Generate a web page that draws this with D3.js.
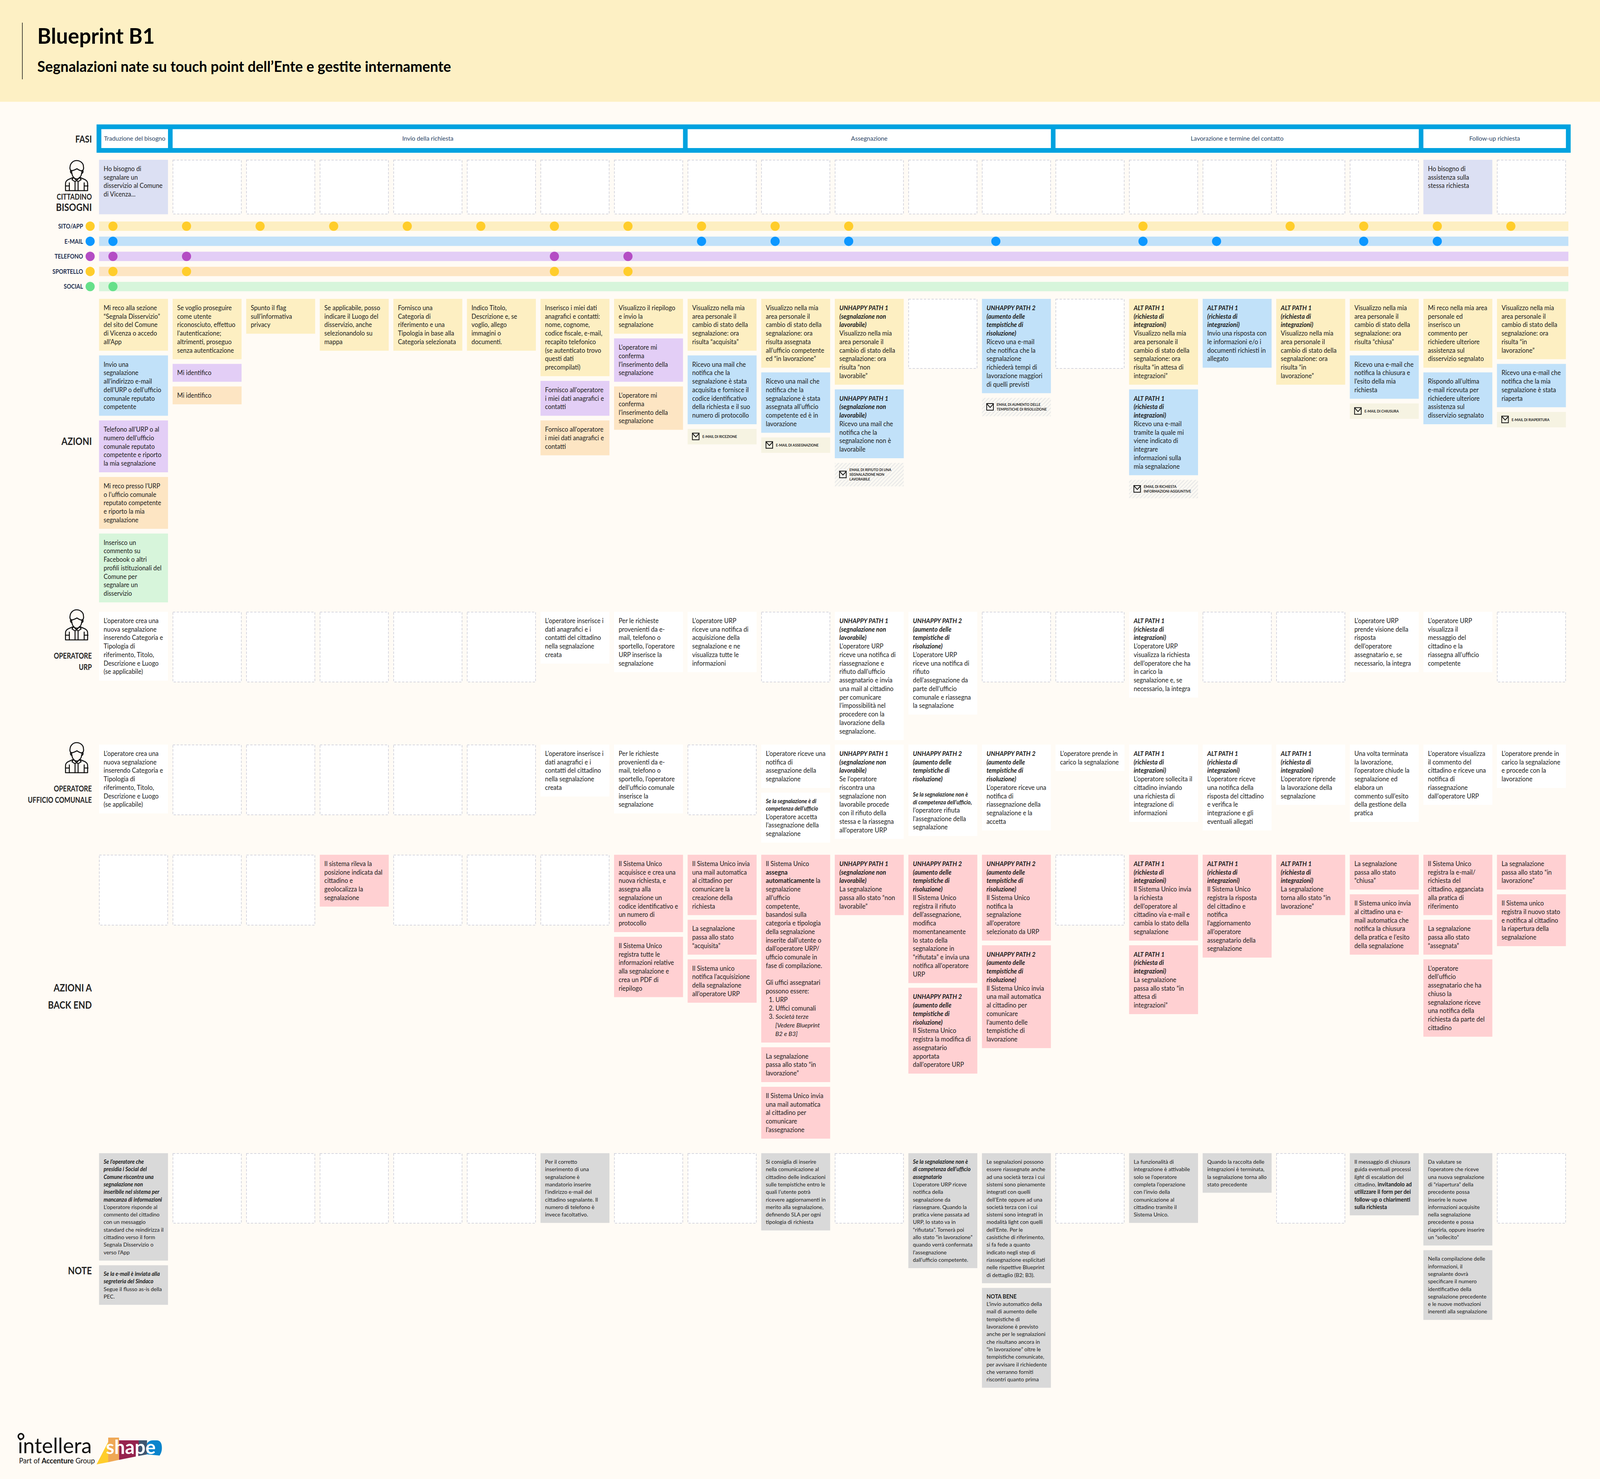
<!DOCTYPE html>
<html>
<head>
<meta charset="utf-8">
<title>Blueprint B1</title>
<script src="https://cdn.jsdelivr.net/npm/d3@7"></script>
<style>
  html, body { margin: 0; padding: 0; background: #FFFBF5; overflow: hidden; }
  svg { display: block; }
  text { font-family: Lato, "Noto Sans", sans-serif; }
</style>
</head>
<body>
<div id="chart"></div>
<script>
/* ========== DATA ========== */
var phases = [
  ['Traduzione del bisogno', 0, 0],
  ['Invio della richiesta', 1, 7],
  ['Assegnazione', 8, 12],
  ['Lavorazione e termine del contatto', 13, 17],
  ['Follow-up richiesta', 18, 19]
];
var channels = ['SITO/APP', 'E-MAIL', 'TELEFONO', 'SPORTELLO', 'SOCIAL'];
var sitoCols = [0, 1, 2, 3, 4, 5, 6, 7, 8, 9, 10, 14, 16, 17, 18, 19];
var emailCols = [0, 8, 9, 10, 12, 14, 15, 17, 18];
var telefonoCols = [0, 1, 6, 7];
var sportelloCols = [0, 1, 6, 7];
var socialCols = [0];

var U1 = '#UNHAPPY PATH 1#|#(segnalazione non#|#lavorabile)#|';
var U2 = '#UNHAPPY PATH 2#|#(aumento delle#|#tempistiche di#|#risoluzione)#|';
var ALT = '#ALT PATH 1#|#(richiesta di#|#integrazioni)#|';

var bisogniCards = [
  [0, 'need', 'Ho bisogno di|segnalare un|disservizio al Comune|di Vicenza...'],
  [18, 'need', 'Ho bisogno di|assistenza sulla|stessa richiesta']
];

var azioniCards = [
  [0, 'sito', 'Mi reco alla sezione|“Segnala Disservizio”|del sito del Comune|di Vicenza o accedo|all’App'],
  [0, 'mail', 'Invio una|segnalazione|all’indirizzo e-mail|dell’URP o dell’ufficio|comunale reputato|competente'],
  [0, 'tel', 'Telefono all’URP o al|numero dell’ufficio|comunale reputato|competente e riporto|la mia segnalazione'],
  [0, 'sport', 'Mi reco presso l’URP|o l’ufficio comunale|reputato competente|e riporto la mia|segnalazione'],
  [0, 'social', 'Inserisco un|commento su|Facebook o altri|profili istituzionali del|Comune per|segnalare un|disservizio'],
  [1, 'sito', 'Se voglio proseguire|come utente|riconosciuto, effettuo|l’autenticazione;|altrimenti, proseguo|senza autenticazione'],
  [1, 'tel', 'Mi identifico'],
  [1, 'sport', 'Mi identifico'],
  [2, 'sito', 'Spunto il flag|sull’informativa|privacy'],
  [3, 'sito', 'Se applicabile, posso|indicare il Luogo del|disservizio, anche|selezionandolo su|mappa'],
  [4, 'sito', 'Fornisco una|Categoria di|riferimento e una|Tipologia in base alla|Categoria selezionata'],
  [5, 'sito', 'Indico Titolo,|Descrizione e, se|voglio, allego|immagini o|documenti.'],
  [6, 'sito', 'Inserisco i miei dati|anagrafici e contatti:|nome, cognome,|codice fiscale, e-mail,|recapito telefonico|(se autenticato trovo|questi dati|precompilati)'],
  [6, 'tel', 'Fornisco all’operatore|i miei dati anagrafici e|contatti'],
  [6, 'sport', 'Fornisco all’operatore|i miei dati anagrafici e|contatti'],
  [7, 'sito', 'Visualizzo il riepilogo|e invio la|segnalazione'],
  [7, 'tel', 'L’operatore mi|conferma|l’inserimento della|segnalazione'],
  [7, 'sport', 'L’operatore mi|conferma|l’inserimento della|segnalazione'],
  [8, 'sito', 'Visualizzo nella mia|area personale il|cambio di stato della|segnalazione: ora|risulta “acquisita”'],
  [8, 'mail', 'Ricevo una mail che|notifica che la|segnalazione è stata|acquisita e fornisce il|codice identificativo|della richiesta e il suo|numero di protocollo'],
  [8, 'tag', 'E-MAIL DI RICEZIONE'],
  [9, 'sito', 'Visualizzo nella mia|area personale il|cambio di stato della|segnalazione: ora|risulta assegnata|all’ufficio competente|ed “in lavorazione”'],
  [9, 'mail', 'Ricevo una mail che|notifica che la|segnalazione è stata|assegnata all’ufficio|competente ed è in|lavorazione'],
  [9, 'tag', 'E-MAIL DI ASSEGNAZIONE'],
  [10, 'sito', U1 + 'Visualizzo nella mia|area personale il|cambio di stato della|segnalazione: ora|risulta “non|lavorabile”'],
  [10, 'mail', U1 + 'Ricevo una mail che|notifica che la|segnalazione non è|lavorabile'],
  [10, 'hatch', 'EMAIL DI RIFIUTO DI UNA|SEGNALAZIONE NON|LAVORABILE'],
  [12, 'mail', U2 + 'Ricevo una e-mail|che notifica che la|segnalazione|richiederà tempi di|lavorazione maggiori|di quelli previsti'],
  [12, 'hatch', 'EMAIL DI AUMENTO DELLE|TEMPISTICHE DI RISOLUZIONE'],
  [14, 'sito', ALT + 'Visualizzo nella mia|area personale il|cambio di stato della|segnalazione: ora|risulta “in attesa di|integrazioni”'],
  [14, 'mail', ALT + 'Ricevo una e-mail|tramite la quale mi|viene indicato di|integrare|informazioni sulla|mia segnalazione'],
  [14, 'hatch', 'EMAIL DI RICHIESTA|INFORMAZIONI AGGIUNTIVE'],
  [15, 'mail', ALT + 'Invio una risposta con|le informazioni e/o i|documenti richiesti in|allegato'],
  [16, 'sito', ALT + 'Visualizzo nella mia|area personale il|cambio di stato della|segnalazione: ora|risulta “in|lavorazione”'],
  [17, 'sito', 'Visualizzo nella mia|area personale il|cambio di stato della|segnalazione: ora|risulta “chiusa”'],
  [17, 'mail', 'Ricevo una e-mail che|notifica la chiusura e|l’esito della mia|richiesta'],
  [17, 'tag', 'E-MAIL DI CHIUSURA'],
  [18, 'sito', 'Mi reco nella mia area|personale ed|inserisco un|commento per|richiedere ulteriore|assistenza sul|disservizio segnalato'],
  [18, 'mail', 'Rispondo all’ultima|e-mail ricevuta per|richiedere ulteriore|assistenza sul|disservizio segnalato'],
  [19, 'sito', 'Visualizzo nella mia|area personale il|cambio di stato della|segnalazione: ora|risulta “in|lavorazione”'],
  [19, 'mail', 'Ricevo una e-mail che|notifica che la mia|segnalazione è stata|riaperta'],
  [19, 'tag', 'E-MAIL DI RIAPERTURA']
];

var urpCards = [
  [0, 'white', 'L’operatore crea una|nuova segnalazione|inserendo Categoria e|Tipologia di|riferimento, Titolo,|Descrizione e Luogo|(se applicabile)'],
  [6, 'white', 'L’operatore inserisce i|dati anagrafici e i|contatti del cittadino|nella segnalazione|creata'],
  [7, 'white', 'Per le richieste|provenienti da e-|mail, telefono o|sportello, l’operatore|URP inserisce la|segnalazione'],
  [8, 'white', 'L’operatore URP|riceve una notifica di|acquisizione della|segnalazione e ne|visualizza tutte le|informazioni'],
  [10, 'white', U1 + 'L’operatore URP|riceve una notifica di|riassegnazione e|rifiuto dall’ufficio|assegnatario e invia|una mail al cittadino|per comunicare|l’impossibilità nel|procedere con la|lavorazione della|segnalazione.'],
  [11, 'white', U2 + 'L’operatore URP|riceve una notifica di|rifiuto|dell’assegnazione da|parte dell’ufficio|comunale e riassegna|la segnalazione'],
  [14, 'white', ALT + 'L’operatore URP|visualizza la richiesta|dell’operatore che ha|in carico la|segnalazione e, se|necessario, la integra'],
  [17, 'white', 'L’operatore URP|prende visione della|risposta|dell’operatore|assegnatario e, se|necessario, la integra'],
  [18, 'white', 'L’operatore URP|visualizza il|messaggio del|cittadino e la|riassegna all’ufficio|competente']
];

var comunaleCards = [
  [0, 'white', 'L’operatore crea una|nuova segnalazione|inserendo Categoria e|Tipologia di|riferimento, Titolo,|Descrizione e Luogo|(se applicabile)'],
  [6, 'white', 'L’operatore inserisce i|dati anagrafici e i|contatti del cittadino|nella segnalazione|creata'],
  [7, 'white', 'Per le richieste|provenienti da e-|mail, telefono o|sportello, l’operatore|dell’ufficio comunale|inserisce la|segnalazione'],
  [9, 'white', 'L’operatore riceve una|notifica di|assegnazione della|segnalazione'],
  [9, 'white', '~#Se la segnalazione è di#|~#competenza dell’ufficio#|L’operatore accetta|l’assegnazione della|segnalazione'],
  [10, 'white', U1 + 'Se l’operatore|riscontra una|segnalazione non|lavorabile procede|con il rifiuto della|stessa e la riassegna|all’operatore URP'],
  [11, 'white', U2 + '~|~#Se la segnalazione non è#|~#di competenza dell’ufficio,#|l’operatore rifiuta|l’assegnazione della|segnalazione'],
  [12, 'white', U2 + 'L’operatore riceve una|notifica di|riassegnazione della|segnalazione e la|accetta'],
  [13, 'white', 'L’operatore prende in|carico la segnalazione'],
  [14, 'white', ALT + 'L’operatore sollecita il|cittadino inviando|una richiesta di|integrazione di|informazioni'],
  [15, 'white', ALT + 'L’operatore riceve|una notifica della|risposta del cittadino|e verifica le|integrazione e gli|eventuali allegati'],
  [16, 'white', ALT + 'L’operatore riprende|la lavorazione della|segnalazione'],
  [17, 'white', 'Una volta terminata|la lavorazione,|l’operatore chiude la|segnalazione ed|elabora un|commento sull’esito|della gestione della|pratica'],
  [18, 'white', 'L’operatore visualizza|il commento del|cittadino e riceve una|notifica di|riassegnazione|dall’operatore URP'],
  [19, 'white', 'L’operatore prende in|carico la segnalazione|e procede con la|lavorazione']
];

var backendCards = [
  [3, 'pink', 'Il sistema rileva la|posizione indicata dal|cittadino e|geolocalizza la|segnalazione'],
  [7, 'pink', 'Il Sistema Unico|acquisisce e crea una|nuova richiesta, e|assegna alla|segnalazione un|codice identificativo e|un numero di|protocollo'],
  [7, 'pink', 'Il Sistema Unico|registra tutte le|informazioni relative|alla segnalazione e|crea un PDF di|riepilogo'],
  [8, 'pink', 'Il Sistema Unico invia|una mail automatica|al cittadino per|comunicare la|creazione della|richiesta'],
  [8, 'pink', 'La segnalazione|passa allo stato|“acquisita”'],
  [8, 'pink', 'Il Sistema unico|notifica l’acquisizione|della segnalazione|all’operatore URP'],
  [9, 'pink', 'Il Sistema Unico|*assegna*|*automaticamente* la|segnalazione|all’ufficio|competente,|basandosi sulla|categoria e tipologia|della segnalazione|inserite dall’utente o|dall’operatore URP/|ufficio comunale in|fase di compilazione.||Gli uffici assegnatari|possono essere:|>1. URP|>2. Uffici comunali|>3. _Società terze_|>>_[Vedere Blueprint_|>>_B2 e B3]_'],
  [9, 'pink', 'La segnalazione|passa allo stato “in|lavorazione”'],
  [9, 'pink', 'Il Sistema Unico invia|una mail automatica|al cittadino per|comunicare|l’assegnazione'],
  [10, 'pink', U1 + 'La segnalazione|passa allo stato “non|lavorabile”'],
  [11, 'pink', U2 + 'Il Sistema Unico|registra il rifiuto|dell’assegnazione,|modifica|momentaneamente|lo stato della|segnalazione in|“rifiutata” e invia una|notifica all’operatore|URP'],
  [11, 'pink', U2 + 'Il Sistema Unico|registra la modifica di|assegnatario|apportata|dall’operatore URP'],
  [12, 'pink', U2 + 'Il Sistema Unico|notifica la|segnalazione|all’operatore|selezionato da URP'],
  [12, 'pink', U2 + 'Il Sistema Unico invia|una mail automatica|al cittadino per|comunicare|l’aumento delle|tempistiche di|lavorazione'],
  [14, 'pink', ALT + 'Il Sistema Unico invia|la richiesta|dell’operatore al|cittadino via e-mail e|cambia lo stato della|segnalazione'],
  [14, 'pink', ALT + 'La segnalazione|passa allo stato “in|attesa di|integrazioni”'],
  [15, 'pink', ALT + 'Il Sistema Unico|registra la risposta|del cittadino e|notifica|l’aggiornamento|all’operatore|assegnatario della|segnalazione'],
  [16, 'pink', ALT + 'La segnalazione|torna allo stato “in|lavorazione”'],
  [17, 'pink', 'La segnalazione|passa allo stato|“chiusa”'],
  [17, 'pink', 'Il Sistema unico invia|al cittadino una e-|mail automatica che|notifica la chiusura|della pratica e l’esito|della segnalazione'],
  [18, 'pink', 'Il Sistema Unico|registra la e-mail/|richiesta del|cittadino, agganciata|alla pratica di|riferimento'],
  [18, 'pink', 'La segnalazione|passa allo stato|“assegnata”'],
  [18, 'pink', 'L’operatore|dell’ufficio|assegnatario che ha|chiuso la|segnalazione riceve|una notifica della|richiesta da parte del|cittadino'],
  [19, 'pink', 'La segnalazione|passa allo stato “in|lavorazione”'],
  [19, 'pink', 'Il Sistema unico|registra il nuovo stato|e notifica al cittadino|la riapertura della|segnalazione']
];

var noteCards = [
  [0, 'note', '#Se l’operatore che#|#presidia i Social del#|#Comune riscontra una#|#segnalazione non#|#inseribile nel sistema per#|#mancanza di informazioni#|L’operatore risponde al|commento del cittadino|con un messaggio|standard che reindirizza il|cittadino verso il form|Segnala Disservizio o|verso l’App'],
  [0, 'note', '#Se la e-mail è inviata alla#|#segreteria del Sindaco#|Segue il flusso as-is della|PEC.'],
  [6, 'note', 'Per il corretto|inserimento di una|segnalazione è|mandatorio inserire|l’indirizzo e-mail del|cittadino segnalante. Il|numero di telefono è|invece facoltativo.'],
  [9, 'note', 'Si consiglia di inserire|nella comunicazione al|cittadino delle indicazioni|sulle tempistiche entro le|quali l’utente potrà|ricevere aggiornamenti in|merito alla segnalazione,|definendo SLA per ogni|tipologia di richiesta'],
  [11, 'note', '#Se la segnalazione non è#|#di competenza dell’ufficio#|#assegnatario#|L’operatore URP riceve|notifica della|segnalazione da|riassegnare. Quando la|pratica viene passata ad|URP, lo stato va in|“rifiutata”. Tornerà poi|allo stato “in lavorazione”|quando verrà confermata|l’assegnazione|dall’ufficio competente.'],
  [12, 'note', 'Le segnalazioni possono|essere riassegnate anche|ad una società terza i cui|sistemi sono pienamente|integrati con quelli|dell’Ente oppure ad una|società terza con i cui|sistemi sono integrati in|modalità light con quelli|dell’Ente. Per le|casistiche di riferimento,|si fa fede a quanto|indicato negli step di|riassegnazione esplicitati|nelle rispettive Blueprint|di dettaglio (B2; B3).'],
  [12, 'note', '*NOTA BENE*|L’invio automatico della|mail di aumento delle|tempistiche di|lavorazione è previsto|anche per le segnalazioni|che risultano ancora in|“in lavorazione” oltre le|tempistiche comunicate,|per avvisare il richiedente|che verranno forniti|riscontri quanto prima'],
  [14, 'note', 'La funzionalità di|integrazione è attivabile|solo se l’operatore|completa l’operazione|con l’invio della|comunicazione al|cittadino tramite il|Sistema Unico.'],
  [15, 'note', 'Quando la raccolta delle|integrazioni è terminata,|la segnalazione torna allo|stato precedente'],
  [17, 'note', 'Il messaggio di chiusura|guida eventuali processi|_light_ di escalation del|cittadino, *invitandolo ad*|*utilizzare il form per dei*|*follow-up o chiarimenti*|*sulla richiesta*'],
  [18, 'note', 'Da valutare se|l’operatore che riceve|una nuova segnalazione|di “riapertura” della|precedente possa|inserire le nuove|informazioni acquisite|nella segnalazione|precedente e possa|riaprirla, oppure inserire|un “sollecito”'],
  [18, 'note', 'Nella compilazione delle|informazioni, il|segnalante dovrà|specificare il numero|identificativo della|segnalazione precedente|e le nuove motivazioni|inerenti alla segnalazione']
];

/* ========== SETUP ========== */
var width = 4200, height = 3786;
var colWidth = 181, lineStep = 21.75, noteStep = 19.3, cardGap = 12;
var bodyFont = 16.3, noteFont = 14.2;

var fills = {
  sito: '#FDEFC2', mail: '#C1E1F9', tel: '#E3CEF6', sport: '#FDE5C3', social: '#D7F5DB',
  need: '#DCE0F3', white: '#FFFFFF', pink: '#FFD0D2', note: '#D9D9D9', tag: '#F6F3E2', hatch: 'url(#hatch)'
};

var x = d3.scaleLinear().domain([0, 19]).range([260, 3929.5]);
var rowTop = d3.scaleOrdinal()
  .domain(['bisogni', 'azioni', 'urp', 'comunale', 'backend', 'note'])
  .range([409, 765, 1566, 1906, 2188, 2952]);
var rowHeight = d3.scaleOrdinal()
  .domain(['bisogni', 'azioni', 'urp', 'comunale', 'backend', 'note'])
  .range([139.5, 179, 180.5, 180.5, 181, 180]);
var channelY = d3.scalePoint().domain(channels).range([579, 733.5]);
var channelFill = d3.scaleOrdinal().domain(channels).range(['#FDEFC2', '#C1E1F9', '#E3CEF6', '#FDE5C3', '#D7F5DB']);
var channelDot = d3.scaleOrdinal().domain(channels).range(['#FFCD2B', '#0D97FF', '#B44DC4', '#FFCD2B', '#66E08A']);

// the window can be capped narrower than the board, so the whole viewBox is fitted to it
var svg = d3.select('#chart').append('svg')
  .attr('width', '100%')
  .attr('height', height)
  .attr('viewBox', '0 0 ' + width + ' ' + height)
  .attr('preserveAspectRatio', 'none');

function squeeze(selection, k){
  selection.each(function(){
    d3.select(this)
      .attr('textLength', this.getComputedTextLength() * k)
      .attr('lengthAdjust', 'spacingAndGlyphs');
  });
}

var defs = svg.append('defs');
var hatch = defs.append('pattern')
  .attr('id', 'hatch')
  .attr('width', 7).attr('height', 7)
  .attr('patternUnits', 'userSpaceOnUse')
  .attr('patternTransform', 'rotate(-45)');
hatch.append('rect').attr('width', 7).attr('height', 7).attr('fill', '#FBF9F3');
hatch.append('rect').attr('width', 7).attr('height', 2).attr('fill', '#E6E6E6');

/* person outline, 61 x 79 */
var person = defs.append('g').attr('id', 'person')
  .attr('fill', 'none').attr('stroke', '#111').attr('stroke-width', 2.6)
  .attr('stroke-linecap', 'round').attr('stroke-linejoin', 'round');
person.append('path').attr('d', 'M17 27c0 13 6 21 13.500 21s13.500-8 13.500-21c-5 1-9-3-13-5c-4 2-10 5-14 5z');
person.append('path').attr('d', 'M16 28c-3-3-4-8-3-12c1-8 8-15 17-15c10 0 18 7 18 15c1 4 0 9-3 12');
person.append('path').attr('d', 'M16 26c-3 0-3 7 2 8M45 26c3 0 3 7-2 8');
person.append('path').attr('d', 'M1 78v-18c0-7 5-10 11-12l10-4l8 8l8-8l10 4c6 2 11 5 11 12v18z');
person.append('path').attr('d', 'M22 44l-4 6l8 5l4-3l4 3l8-5l-4-6M26 55v23M34 55v23');
person.append('path').attr('d', 'M11 58v20M50 58v20M1 66h10M50 66h10');

/* ========== HEADER ========== */
svg.append('rect').attr('width', width).attr('height', 260.5).attr('fill', '#FDF0C4');
svg.append('rect').attr('x', 58).attr('y', 58).attr('width', 1.5).attr('height', 145).attr('fill', '#111');
svg.append('text').attr('x', 98).attr('y', 112)
  .attr('font-size', 55).attr('font-weight', 700).attr('fill', '#000').text('Blueprint B1');
svg.append('text').attr('x', 98).attr('y', 184)
  .attr('font-size', 37.8).attr('font-weight', 700).attr('fill', '#000')
  .text('Segnalazioni nate su touch point dell’Ente e gestite internamente');

/* ========== FASI ========== */
svg.append('rect').attr('x', 253.5).attr('y', 318.5).attr('width', 3869.5).attr('height', 72.5).attr('fill', '#00A2DF');
var phase = svg.selectAll('.phase').data(phases).enter().append('g').attr('class', 'phase');
phase.append('rect')
  .attr('x', function(d, i){ return i === 0 ? 266 : x(d[1]); })
  .attr('y', 330.6)
  .attr('width', function(d, i){ return x(d[2]) + colWidth - (i === 0 ? 266 : x(d[1])); })
  .attr('height', 48.4)
  .attr('fill', '#fff');
phase.append('text')
  .attr('x', function(d, i){ return ((i === 0 ? 266 : x(d[1])) + x(d[2]) + colWidth) / 2; })
  .attr('y', 360.5)
  .attr('text-anchor', 'middle')
  .attr('font-size', 16)
  .attr('fill', '#2C4565')
  .text(function(d){ return d[0]; });

/* ========== CANALI ========== */
var channelRows = d3.zip(channels, [sitoCols, emailCols, telefonoCols, sportelloCols, socialCols]);
var channel = svg.selectAll('.channel').data(channelRows).enter().append('g').attr('class', 'channel');
channel.append('rect')
  .attr('x', x(0))
  .attr('y', function(d){ return channelY(d[0]) - 12; })
  .attr('width', 4117 - x(0))
  .attr('height', 24)
  .attr('fill', function(d){ return channelFill(d[0]); });
channel.append('text')
  .attr('x', 218)
  .attr('y', function(d){ return channelY(d[0]) + 6; })
  .attr('text-anchor', 'end')
  .attr('font-size', 16.5)
  .attr('font-weight', 700)
  .attr('fill', '#1F3050')
  .text(function(d){ return d[0]; })
  .call(squeeze, 0.87);
channel.append('circle')
  .attr('cx', 236.6)
  .attr('cy', function(d){ return channelY(d[0]); })
  .attr('r', 12)
  .attr('fill', function(d){ return channelDot(d[0]); });
channel.selectAll('.dot')
  .data(function(d){ return d[1].map(function(c){ return {name: d[0], col: c}; }); })
  .enter().append('circle')
  .attr('class', 'dot')
  .attr('cx', function(d){ return x(d.col) + 36.5; })
  .attr('cy', function(d){ return channelY(d.name); })
  .attr('r', 12)
  .attr('fill', function(d){ return channelDot(d.name); });

/* ========== CARDS ========== */
function parse_segments(line){
  var parts = line.split(/(\*[^*]+\*|_[^_]+_|#[^#]+#)/), out = [];
  parts.forEach(function(p){
    if (!p) return;
    var m = p[0], inner = p.slice(1, -1);
    if (m === '*' && p.length > 1) out.push({t: inner, w: 700, s: 'normal'});
    else if (m === '_' && p.length > 1) out.push({t: inner, w: 400, s: 'italic'});
    else if (m === '#' && p.length > 1) out.push({t: inner, w: 700, s: 'italic'});
    else out.push({t: p, w: 400, s: 'normal'});
  });
  return out;
}

function draw_text_card(g, x0, y0, kind, text, fixed_h){
  var is_note = kind === 'note';
  var base = is_note ? noteStep : lineStep;
  var base_font = is_note ? noteFont : bodyFont;
  var lines = text.split('|').map(function(l){
    var small = l[0] === '~';
    if (small) l = l.slice(1);
    var indent = 0;
    while (l[0] === '>') { indent += 1; l = l.slice(1); }
    return {raw: l, small: small, indent: indent};
  });
  var h = 24 + d3.sum(lines, function(l){ return l.small ? noteStep : base; });
  if (fixed_h) h = fixed_h;
  g.append('rect').attr('x', x0).attr('y', y0).attr('width', colWidth).attr('height', h).attr('fill', fills[kind]);

  var y = y0 + 12;
  lines.forEach(function(l){
    var step = l.small ? noteStep : base, fs = l.small ? noteFont : base_font;
    if (l.raw) {
      var t = g.append('text')
        .attr('x', x0 + 12 + l.indent * 8 + (l.indent > 1 ? 9 : 0))
        .attr('y', y + step * 0.78)
        .attr('font-size', fs)
        .attr('fill', '#1c1c1c');
      parse_segments(l.raw).forEach(function(s){
        t.append('tspan').attr('font-weight', s.w).attr('font-style', s.s).text(s.t);
      });
    }
    y += step;
  });
  return h;
}

function draw_tag(g, x0, y0, kind, text){
  var lines = text.split('|');
  var h = [39.5, 47, 60][lines.length - 1];
  g.append('rect').attr('x', x0).attr('y', y0).attr('width', colWidth).attr('height', h).attr('fill', fills[kind]);
  var cy = y0 + h / 2;
  g.append('rect').attr('x', x0 + 12.5).attr('y', cy - 9).attr('width', 17.5).attr('height', 17)
    .attr('fill', 'none').attr('stroke', '#111').attr('stroke-width', 2);
  g.append('path').attr('d', 'M' + (x0 + 13) + ' ' + (cy - 8) + 'l8.500 9l8.500-9')
    .attr('fill', 'none').attr('stroke', '#111').attr('stroke-width', 2);
  lines.forEach(function(l, i){
    g.append('text')
      .attr('x', x0 + 38.5)
      .attr('y', cy + 3.5 + (i - (lines.length - 1) / 2) * 12)
      .attr('font-size', 9)
      .attr('font-weight', 700)
      .attr('fill', '#222')
      .text(l);
  });
  return h;
}

function draw_row(name, cards){
  var g = svg.append('g').attr('class', 'row-' + name);
  var top = rowTop(name), by_col = d3.group(cards, function(d){ return d[0]; });
  d3.range(20).forEach(function(c){
    if (by_col.has(c)) {
      var y = top;
      by_col.get(c).forEach(function(d){
        var is_tag = d[1] === 'tag' || d[1] === 'hatch';
        var h = is_tag ? draw_tag(g, x(d[0]), y, d[1], d[2])
          : draw_text_card(g, x(d[0]), y, d[1], d[2], name === 'bisogni' ? rowHeight(name) : null);
        y += h + cardGap;
      });
    } else {
      g.append('rect')
        .attr('x', x(c) + 0.75).attr('y', top + 0.75)
        .attr('width', colWidth - 1.5).attr('height', rowHeight(name) - 1.5)
        .attr('fill', '#fff')
        .attr('stroke', '#C9CAD6')
        .attr('stroke-width', 1.5)
        .attr('stroke-dasharray', '6 4');
    }
  });
}

draw_row('bisogni', bisogniCards);
draw_row('azioni', azioniCards);
draw_row('urp', urpCards);
draw_row('comunale', comunaleCards);
draw_row('backend', backendCards);
draw_row('note', noteCards);

/* ========== ROW LABELS ========== */
var rowLabels = [
  ['FASI', 365, 25], ['CITTADINO', 511, 20], ['BISOGNI', 540, 27], ['AZIONI', 1139, 27],
  ['OPERATORE', 1686, 20], ['URP', 1715, 20],
  ['OPERATORE', 2026, 20], ['UFFICIO COMUNALE', 2055, 20],
  ['AZIONI A', 2538, 27], ['BACK END', 2582, 27], ['NOTE', 3262, 27]
];
svg.selectAll('.row-label').data(rowLabels).enter().append('text')
  .attr('class', 'row-label')
  .attr('x', 241)
  .attr('y', function(d){ return d[1]; })
  .attr('text-anchor', 'end')
  .attr('font-size', function(d){ return d[2]; })
  .attr('font-weight', 700)
  .attr('fill', '#222')
  .text(function(d){ return d[0]; })
  .call(squeeze, 0.85);

[410, 1560, 1900].forEach(function(y){
  svg.append('use').attr('href', '#person').attr('transform', 'translate(171,' + y + ')');
});

/* ========== LOGOS ========== */
var logo = svg.append('g');
logo.append('text').attr('x', 47).attr('y', 3720).attr('font-size', 55).attr('fill', '#111').text('intellera');
logo.append('circle').attr('cx', 55).attr('cy', 3677).attr('r', 7).attr('fill', '#FFFBF5').attr('stroke', '#111').attr('stroke-width', 4);
var part = logo.append('text').attr('x', 50).attr('y', 3746).attr('font-size', 18.5).attr('fill', '#111');
part.append('tspan').text('Part of ');
part.append('tspan').attr('font-weight', 700).text('Accenture');
part.append('tspan').text(' Group');

logo.append('path').attr('d', 'M253.500 3748.500L284 3691V3743z').attr('fill', '#FFCD2B');
logo.append('path').attr('d', 'M284 3680H312.500V3737L284 3743z').attr('fill', '#EFA855');
logo.append('path').attr('d', 'M312.500 3687H364V3727L312.500 3737z').attr('fill', '#96234E');
logo.append('path').attr('d', 'M364 3687H386V3723L364 3727z').attr('fill', '#3F5670');
logo.append('path').attr('d', 'M386 3695q5-8 15-8h10q14 0 14 20q0 10-6 19L386 3723z').attr('fill', '#0A84CC');
logo.append('text').attr('x', 278).attr('y', 3722).attr('font-size', 50).attr('font-weight', 700).attr('fill', '#fff')
  .text('shape');
</script>
</body>
</html>
